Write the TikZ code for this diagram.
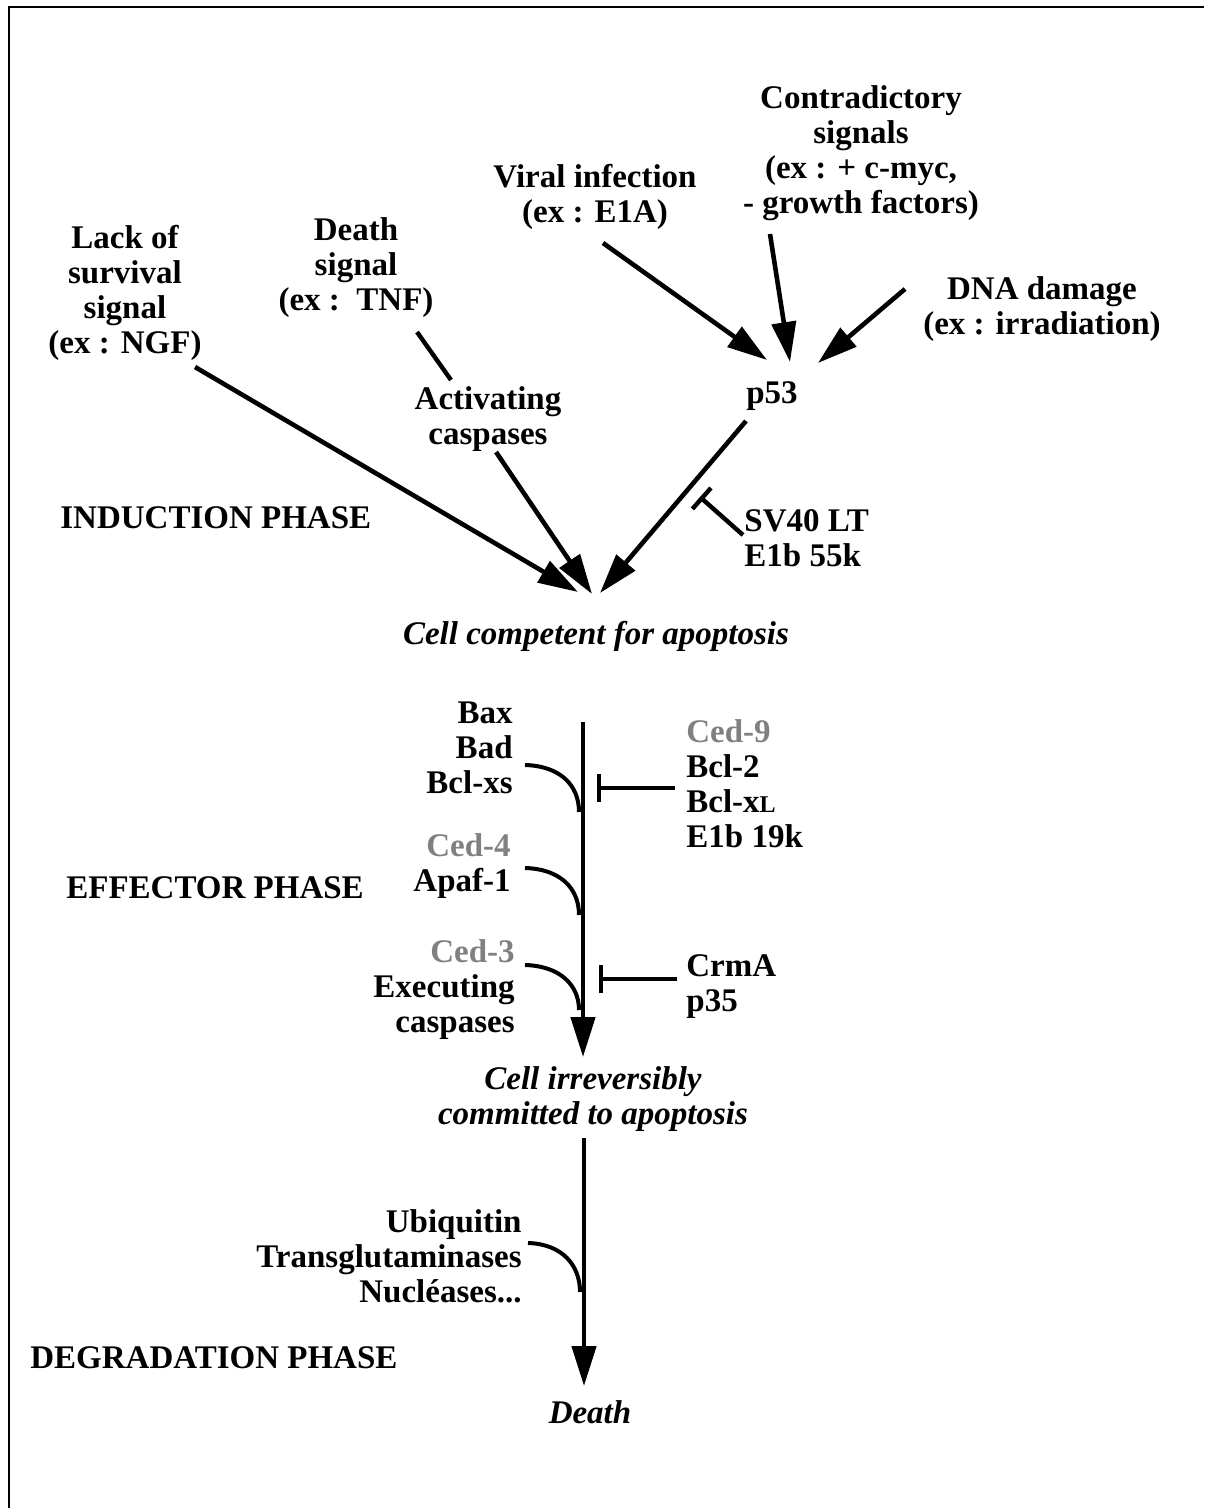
\documentclass[tikz,border=0pt]{standalone}
\usepackage{fontspec}
\setmainfont{Liberation Serif}
\usetikzlibrary{arrows.meta}
\definecolor{cedgray}{RGB}{128,128,128}
\begin{document}
\begin{tikzpicture}[x=0.5pt,y=-0.5pt,
  txt/.style={font=\bfseries\fontsize{16.5}{17.5}\selectfont, inner sep=0pt, align=center},
  itx/.style={font=\bfseries\itshape\fontsize{16.5}{17.5}\selectfont, inner sep=0pt, align=center},
  arr/.style={line width=2.3pt, -{Triangle[length=20pt,width=12pt]}},
  inh/.style={line width=2.2pt, -{Bar[width=14pt]}},
  crv/.style={line width=2pt},
  lnk/.style={line width=2.2pt},
  frame/.style={line width=1pt}]
\useasboundingbox (0,0) rectangle (1204,1508);
\draw[frame] (8.5,1508) -- (8.5,7.5) -- (1204,7.5);

% texts
\node[txt] (contra) at (861,153) {Contradictory\\signals\\(ex : + c-myc,\\- growth factors)};
\node[txt] (viral) at (595,197) {Viral infection\\(ex : E1A)};
\node[txt] (lack) at (125,293) {Lack of\\survival\\signal\\(ex : NGF)};
\node[txt] (dsig) at (356,268) {Death\\signal\\(ex :\enspace TNF)};
\node[txt] (dna) at (1042,309) {DNA damage\\(ex : irradiation)};
\node[txt] (p53) at (772,396) {p53};
\node[txt] (actc) at (488,419) {Activating\\caspases};
\node[txt, anchor=west] (induct) at (60,518) {INDUCTION PHASE};
\node[txt, align=left, anchor=west] (sv40) at (744,538) {SV40 LT\\E1b 55k};
\node[itx] (compet) at (596,636) {Cell competent for apoptosis};
\node[txt, align=right, anchor=east] (bax) at (513,748) {Bax\\Bad\\Bcl-xs};
\node[txt, align=left, anchor=west] (bcl2) at (686,784) {{\color{cedgray}Ced-9}\\Bcl-2\\Bcl-x{\fontsize{12}{12}\selectfont L}\\E1b 19k};
\node[txt, align=right, anchor=east] (apaf) at (511,866) {{\color{cedgray}Ced-4}\\Apaf-1};
\node[txt, anchor=west] (effect) at (66,888) {EFFECTOR PHASE};
\node[txt, align=right, anchor=east] (exec) at (515,990) {{\color{cedgray}Ced-3}\\Executing\\caspases};
\node[txt, align=left, anchor=west] (crma) at (686,987) {CrmA\\p35};
\node[itx] (irrev) at (593,1099) {Cell irreversibly\\committed to apoptosis};
\node[txt, align=right, anchor=east] (ubiq) at (522,1256) {Ubiquitin\\Transglutaminases\\Nucléases...};
\node[txt, anchor=west] (degr) at (30,1358) {DEGRADATION PHASE};
\node[itx] (death) at (590,1412) {Death};

% connector end points
\coordinate (ngfS) at (195,367);
\coordinate (ngfT) at (578,592);
\coordinate (actS) at (496,452);
\coordinate (actT) at (592,594);
\coordinate (p53S) at (746,421);
\coordinate (p53T) at (600,593);
\coordinate (tnfS) at (417,332);
\coordinate (tnfT) at (451,380);
\coordinate (virS) at (603,243);
\coordinate (virT) at (767,360);
\coordinate (conS) at (770,234);
\coordinate (conT) at (790,362);
\coordinate (dnaS) at (905,289);
\coordinate (dnaT) at (818,363);
\coordinate (svS) at (743,535);
\coordinate (svT) at (700,497);
\coordinate (effS) at (583,722);
\coordinate (effT) at (583,1057);
\coordinate (bclS) at (675,788);
\coordinate (bclT) at (597,788);
\coordinate (crmS) at (677,979);
\coordinate (crmT) at (599,979);
\coordinate (degS) at (584,1138);
\coordinate (degT) at (584,1386);

% induction phase
\draw[arr] (ngfS) -- (ngfT);
\draw[arr] (actS) -- (actT);
\draw[arr] (p53S) -- (p53T);
\draw[lnk] (tnfS) -- (tnfT);
\draw[arr] (virS) -- (virT);
\draw[arr] (conS) -- (conT);
\draw[arr] (dnaS) -- (dnaT);
\draw[inh] (svS) -- (svT);

% effector phase
\draw[arr] (effS) -- (effT);
\draw[inh] (bclS) -- (bclT);
\draw[inh] (crmS) -- (crmT);
\draw[crv] (525,765) .. controls (560,766) and (579,785) .. (579,812);
\draw[crv] (525,868) .. controls (560,869) and (579,888) .. (579,915);
\draw[crv] (525,965) .. controls (560,966) and (579,985) .. (579,1010);

% degradation phase
\draw[arr] (degS) -- (degT);
\draw[crv] (528,1243) .. controls (562,1244) and (580,1265) .. (580,1292);
\end{tikzpicture}
\end{document}
